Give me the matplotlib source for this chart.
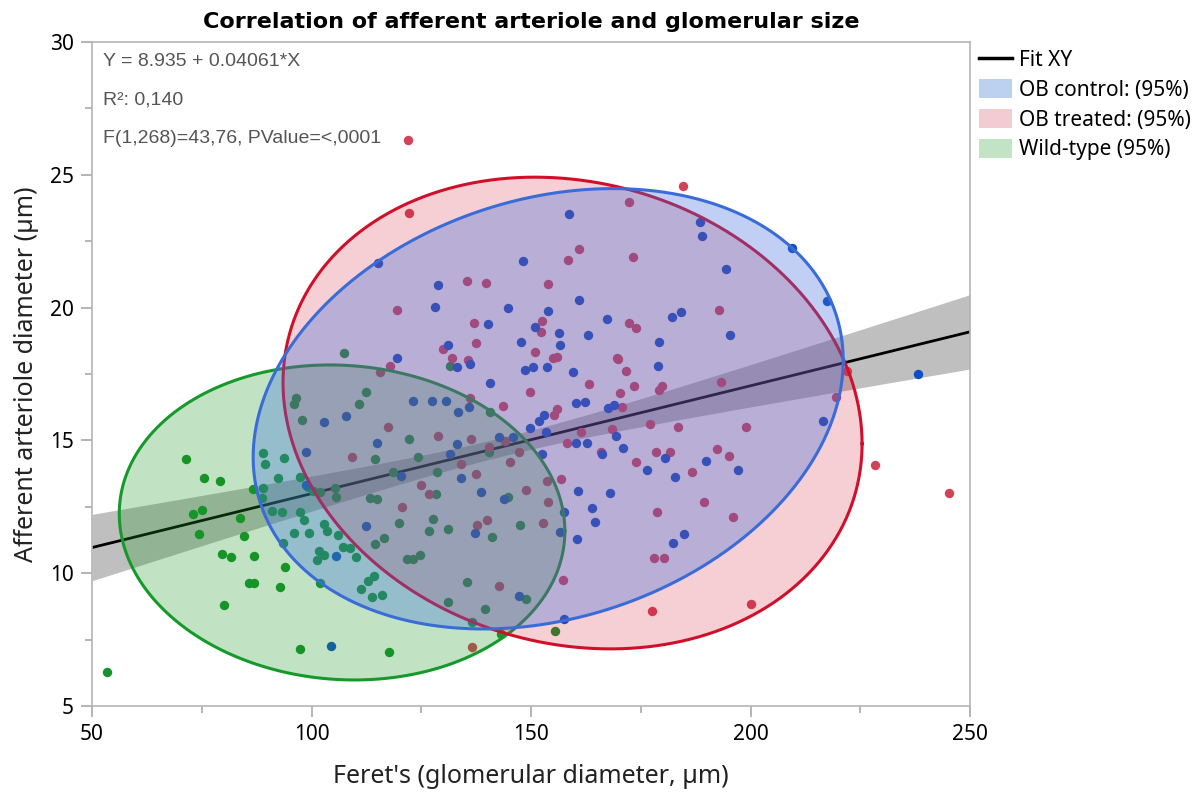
import numpy as np
import matplotlib
matplotlib.use("Agg")
import matplotlib.pyplot as plt
from matplotlib.lines import Line2D
from matplotlib.patches import Patch
from matplotlib.ticker import MultipleLocator

# ---------------- data ----------------
green_x = [71.4, 75.6, 79.2, 72.9, 75.1, 74.3, 83.7, 86.7, 84.6, 79.5, 81.6, 86.9, 85.7, 86.9, 92.8,
           93.9, 80.1, 97.3, 117.7, 53.5, 93.4, 89.0, 89.5, 93.7, 89.0, 88.7, 92.3, 97.3, 91.1, 93.3,
           97.4, 98.2, 95.9, 99.4, 102.9, 103.5, 106.1, 101.7, 101.2, 102.9, 107.2, 108.8, 110.1, 101.9,
           112.8, 114.2, 111.2, 113.7, 116.0, 96.4, 96.0, 97.8, 107.5, 112.4, 110.9, 114.5, 105.4, 105.6,
           100.4, 101.9, 99.3, 113.2, 114.9, 118.6, 122.1, 124.3, 128.5, 128.4, 120.0, 127.7, 126.8,
           131.0, 114.5, 116.4, 121.8, 123.2, 124.7, 135.4, 131.0, 139.5, 136.5, 143.1, 140.7, 140.5,
           144.7, 147.5, 141.1, 148.8, 155.5, 131.6]
green_y = [14.29, 13.6, 13.47, 12.23, 12.38, 11.49, 12.09, 13.16, 11.4, 10.72, 10.6, 10.66, 9.64, 9.64, 9.48,
           10.22, 8.79, 7.16, 7.02, 6.29, 11.15, 14.54, 14.1, 14.33, 13.2, 12.82, 13.57, 13.61, 12.35, 12.29,
           12.29, 11.99, 11.52, 11.52, 11.86, 11.59, 11.44, 10.84, 10.5, 10.69, 10.98, 10.94, 10.6, 9.62,
           9.72, 9.91, 9.39, 9.1, 9.18, 16.58, 16.36, 15.77, 18.3, 16.81, 16.37, 14.31, 13.22, 12.88,
           13.09, 13.07, 13.26, 12.84, 12.78, 13.82, 15.04, 14.39, 13.8, 13.0, 11.88, 12.03, 11.6,
           11.67, 11.1, 11.34, 10.52, 10.52, 10.69, 9.67, 8.93, 8.66, 8.17, 7.72, 16.06, 14.58,
           12.88, 11.81, 11.35, 9.01, 7.84, 17.81]

blue_x = [98.7, 98.8, 102.9, 107.9, 114.9, 112.3, 105.6, 104.4, 120.3, 123.1, 127.5, 130.6, 133.3, 135.9,
          133.1, 131.6, 134.1, 138.6, 143.9, 137.3, 142.6, 146.0, 152.4, 147.3, 157.4, 156.6, 157.5,
          149.8, 151.9, 153.0, 153.4, 119.4, 133.1, 136.1, 140.7, 148.6, 150.5, 153.7, 131.0, 147.7,
          156.4, 156.6, 162.9, 159.5, 179.2, 179.0, 160.3, 162.3, 167.6, 168.8, 169.3, 171.0, 166.2,
          180.4, 182.8, 176.4, 160.2, 162.8, 160.6, 168.0, 163.9, 164.5, 160.4, 182.4, 115.2, 148.1,
          128.9, 128.2, 144.7, 140.2, 150.9, 153.8, 158.7, 188.5, 189.0, 209.5, 217.5, 194.3, 160.9,
          167.2, 182.0, 184.2, 195.3, 238.1, 216.6, 189.8, 197.2, 184.9]
blue_y = [13.32, 14.58, 15.68, 15.92, 14.91, 11.79, 10.66, 7.27, 13.66, 16.47, 16.47, 16.48, 16.06, 16.25,
          14.85, 14.5, 13.58, 13.06, 12.79, 11.52, 15.14, 15.12, 14.49, 9.14, 12.29, 11.54, 8.26,
          15.45, 15.73, 15.96, 15.33, 18.09, 17.78, 17.88, 17.15, 17.65, 17.78, 17.75, 18.59, 18.71,
          19.05, 18.59, 18.97, 17.59, 18.72, 17.8, 16.4, 16.43, 16.21, 16.33, 15.17, 14.7, 14.48,
          14.35, 13.63, 13.88, 14.89, 14.89, 13.09, 13.03, 12.44, 11.92, 11.29, 11.13, 21.69, 21.75,
          20.85, 20.03, 19.97, 19.38, 19.28, 19.88, 23.51, 23.21, 22.69, 22.23, 20.25, 21.44, 20.29,
          19.57, 19.63, 19.82, 18.97, 17.5, 15.74, 14.24, 13.9, 11.49]

red_x = [122.2, 135.5, 139.7, 153.8, 119.4, 137.0, 137.4, 152.6, 152.3, 150.9, 130.0, 132.1, 135.7, 184.5,
         172.3, 161.0, 158.4, 173.2, 192.8, 172.2, 173.8, 169.5, 117.9, 155.1, 155.9, 149.8, 143.5,
         155.9, 155.2, 163.2, 169.7, 171.6, 170.3, 173.5, 179.8, 179.2, 170.7, 177.0, 183.4, 168.4,
         161.4, 158.3, 165.9, 178.5, 181.7, 173.9, 156.8, 153.6, 148.9, 153.8, 152.7, 178.8, 177.9,
         180.3, 157.2, 177.5, 142.6, 147.3, 145.1, 144.1, 140.5, 136.3, 128.9, 117.5, 134.1, 137.4,
         124.9, 126.8, 120.6, 137.8, 139.9, 136.1, 193.3, 221.9, 219.5, 198.9, 192.4, 195.2, 186.6,
         189.4, 196.1, 228.4, 245.3, 200.0, 109.2, 115.6, 136.6, 122.0]
red_y = [23.55, 21.01, 20.91, 20.87, 19.91, 19.43, 18.65, 19.51, 19.07, 18.34, 18.44, 18.09, 18.03, 24.58,
         23.97, 22.21, 21.79, 21.89, 19.9, 19.41, 19.22, 18.09, 17.8, 18.1, 18.13, 16.83, 16.31,
         16.18, 15.96, 17.12, 18.05, 17.62, 16.8, 17.05, 17.05, 16.9, 16.25, 15.62, 15.52, 15.43,
         15.33, 14.89, 14.55, 14.57, 14.57, 14.18, 13.54, 13.47, 13.13, 12.67, 11.88, 12.29, 10.58,
         10.58, 9.74, 8.58, 9.53, 14.57, 14.18, 14.98, 14.76, 15.04, 15.17, 15.49, 14.1, 13.74,
         13.32, 12.98, 12.5, 11.83, 12.0, 16.6, 17.21, 17.62, 16.64, 15.52, 14.68, 14.41, 13.82,
         12.69, 12.1, 14.06, 13.03, 8.84, 14.37, 17.59, 7.23, 26.31]

# fit line (from annotation) and its confidence band
fit_intercept = 8.935
fit_slope = 0.04061
band_min_half = 0.35      # half-width at mean x
band_growth = 0.01278     # growth of half-width per unit x
band_xmean = 143.9

# 95% density ellipses: order = Wild-type, OB treated, OB control
ell_names = ["Wild-type", "OB treated", "OB control"]
ell_cx = [106.95, 159.45, 153.9]
ell_cy = [11.91, 16.03, 16.19]
ell_hx = [50.75, 65.95, 67.2]
ell_hy = [5.93, 8.88, 8.29]
ell_rho = [-0.055, -0.13, 0.22]

legend_labels = ["Fit XY", "OB control: (95%)", "OB treated: (95%)", "Wild-type (95%)"]

# ---------------- style ----------------
edge_col = {"Wild-type": "#16992b", "OB treated": "#d0102a", "OB control": "#3a6cd8"}
fill_col = {"Wild-type": "#1a9a22", "OB treated": "#d10f29", "OB control": "#4070dc"}
fill_alpha = {"Wild-type": 0.27, "OB treated": 0.2, "OB control": 0.33}

fig = plt.figure(figsize=(12, 7.92), dpi=100)
ax = fig.add_axes([0.0767, 0.1086, 0.7317, 0.8384])

ax.set_xlim(50, 250)
ax.set_ylim(5, 30)

# band + fit line
xs = np.linspace(50, 250, 200)
yfit = fit_intercept + fit_slope * xs
half = np.sqrt(band_min_half**2 + (band_growth * (xs - band_xmean))**2)
ax.fill_between(xs, yfit - half, yfit + half, color="#b4b4b4", alpha=0.85, lw=0, zorder=1)
ax.plot(xs, yfit, color="black", lw=2.0, zorder=2)

# points
ms = 46
ax.scatter(green_x, green_y, s=ms, color="#17922b", lw=0, zorder=3)
ax.scatter(red_x, red_y, s=ms, color="#d2435a", lw=0, zorder=3)
ax.scatter(blue_x, blue_y, s=ms, color="#0e4fc8", lw=0, zorder=3)

# ellipses
t = np.linspace(0, 2 * np.pi, 400)
for i, name in enumerate(ell_names):
    r = ell_rho[i]
    ex = ell_cx[i] + ell_hx[i] * np.cos(t)
    ey = ell_cy[i] + ell_hy[i] * (r * np.cos(t) + np.sqrt(1 - r * r) * np.sin(t))
    z = 4 + 2 * i
    ax.fill(ex, ey, color=fill_col[name], alpha=fill_alpha[name], lw=0, zorder=z)
    ax.plot(ex, ey, color=edge_col[name], lw=2.2, zorder=z + 0.5)

# axes styling
for sp in ax.spines.values():
    sp.set_color("#b5b5b5")
    sp.set_linewidth(1.2)
ax.xaxis.set_major_locator(MultipleLocator(50))
ax.xaxis.set_minor_locator(MultipleLocator(25))
ax.yaxis.set_major_locator(MultipleLocator(5))
ax.yaxis.set_minor_locator(MultipleLocator(2.5))
ax.tick_params(which="major", direction="out", length=8, width=1.2, color="#a8a8a8",
               labelsize=15, labelcolor="black", pad=5)
ax.tick_params(which="minor", direction="out", length=5, width=1.2, color="#a8a8a8")
for lab in ax.get_xticklabels() + ax.get_yticklabels():
    lab.set_fontfamily("Noto Sans")

ax.set_xlabel("Feret's (glomerular diameter, µm)", fontsize=18, family="Noto Sans",
              color="#222222", labelpad=14)
ax.set_ylabel("Afferent arteriole diameter (µm)", fontsize=18, family="Noto Sans",
              color="#222222", labelpad=8)
ax.set_title("Correlation of afferent arteriole and glomerular size", fontsize=16,
             family="DejaVu Sans", fontweight="bold", pad=10)

# annotations
ann = ["Y = 8.935 + 0.04061*X", "R²: 0,140", "F(1,268)=43,76, PValue=<,0001"]
for k, txt in enumerate(ann):
    ax.text(0.013, 0.97 - k * 0.058, txt, transform=ax.transAxes, fontsize=14,
            family="Liberation Sans", color="#555555", va="center", ha="left", zorder=20)

# legend
handles = [Line2D([0], [0], color="black", lw=2.5),
           Patch(facecolor="#bcd0f0", edgecolor="none"),
           Patch(facecolor="#f3ccd2", edgecolor="none"),
           Patch(facecolor="#c2e3c4", edgecolor="none")]
leg = fig.legend(handles, legend_labels, loc="upper left", bbox_to_anchor=(0.809, 0.948),
                 frameon=False, prop={"family": "Noto Sans", "size": 15},
                 handlelength=1.6, handleheight=1.0, labelspacing=0.4, handletextpad=0.3,
                 borderaxespad=0)

fig.savefig("out.png", dpi=100)
